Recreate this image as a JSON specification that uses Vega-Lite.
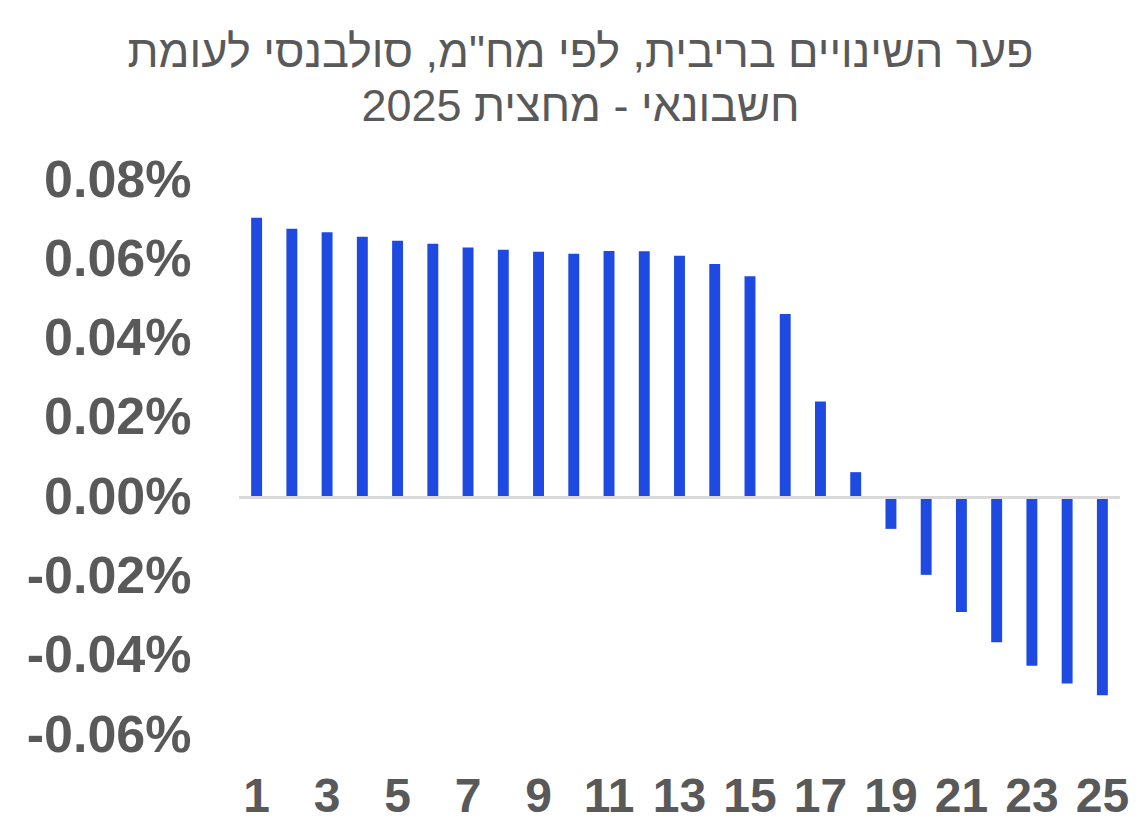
{
  "$schema": "https://vega.github.io/schema/vega-lite/v6.json",
  "autosize": "none",
  "width": 881,
  "height": 555,
  "padding": {"left": 239, "top": 180, "right": 25, "bottom": 99},
  "background": "#ffffff",
  "config": {"view": {"stroke": null}},
  "title": {
    "text": ["\u202bפער השינויים בריבית, לפי מח\"מ, סולבנסי לעומת\u202c", "\u202bחשבונאי - מחצית 2025\u202c"],
    "font": "Liberation Sans",
    "fontSize": 45,
    "fontWeight": "normal",
    "color": "#595959",
    "lineHeight": 54,
    "anchor": "middle",
    "frame": "group",
    "dx": -99,
    "offset": 24
  },
  "data": {
    "values": [
      {"n": 1, "v": 0.0705},
      {"n": 2, "v": 0.0677},
      {"n": 3, "v": 0.0668},
      {"n": 4, "v": 0.0657},
      {"n": 5, "v": 0.0647},
      {"n": 6, "v": 0.0639},
      {"n": 7, "v": 0.0630},
      {"n": 8, "v": 0.0624},
      {"n": 9, "v": 0.0619},
      {"n": 10, "v": 0.0614},
      {"n": 11, "v": 0.0621},
      {"n": 12, "v": 0.0620},
      {"n": 13, "v": 0.0609},
      {"n": 14, "v": 0.0588},
      {"n": 15, "v": 0.0557},
      {"n": 16, "v": 0.0462},
      {"n": 17, "v": 0.0241},
      {"n": 18, "v": 0.0063},
      {"n": 19, "v": -0.0080},
      {"n": 20, "v": -0.0196},
      {"n": 21, "v": -0.0290},
      {"n": 22, "v": -0.0366},
      {"n": 23, "v": -0.0425},
      {"n": 24, "v": -0.0470},
      {"n": 25, "v": -0.0500}
    ]
  },
  "layer": [
    {
      "mark": {"type": "bar", "color": "#1e4ae2"},
      "encoding": {
        "x": {
          "field": "n",
          "type": "ordinal",
          "scale": {"paddingInner": 0.69, "paddingOuter": 0.345},
          "axis": {
            "title": null,
            "values": [1, 3, 5, 7, 9, 11, 13, 15, 17, 19, 21, 23, 25],
            "labelAngle": 0,
            "labelFont": "Liberation Sans",
            "labelFontSize": 48,
            "labelFontWeight": "bold",
            "labelColor": "#595959",
            "labelPadding": 38,
            "ticks": false,
            "domain": false
          }
        },
        "y": {
          "field": "v",
          "type": "quantitative",
          "scale": {"domain": [-0.06, 0.08], "nice": false, "zero": false},
          "axis": {
            "title": null,
            "values": [-0.06, -0.04, -0.02, 0, 0.02, 0.04, 0.06, 0.08],
            "labelExpr": "(datum.value < -0.0001 ? '-' : '') + format(abs(datum.value), '.2f') + '%'",
            "labelFont": "Liberation Sans",
            "labelFontSize": 52,
            "labelFontWeight": "bold",
            "labelColor": "#595959",
            "labelPadding": 48,
            "ticks": false,
            "domain": false,
            "grid": false
          }
        }
      }
    },
    {
      "mark": {"type": "rule", "color": "#d9d9d9", "strokeWidth": 2},
      "encoding": {"y": {"datum": 0, "type": "quantitative"}}
    }
  ]
}
